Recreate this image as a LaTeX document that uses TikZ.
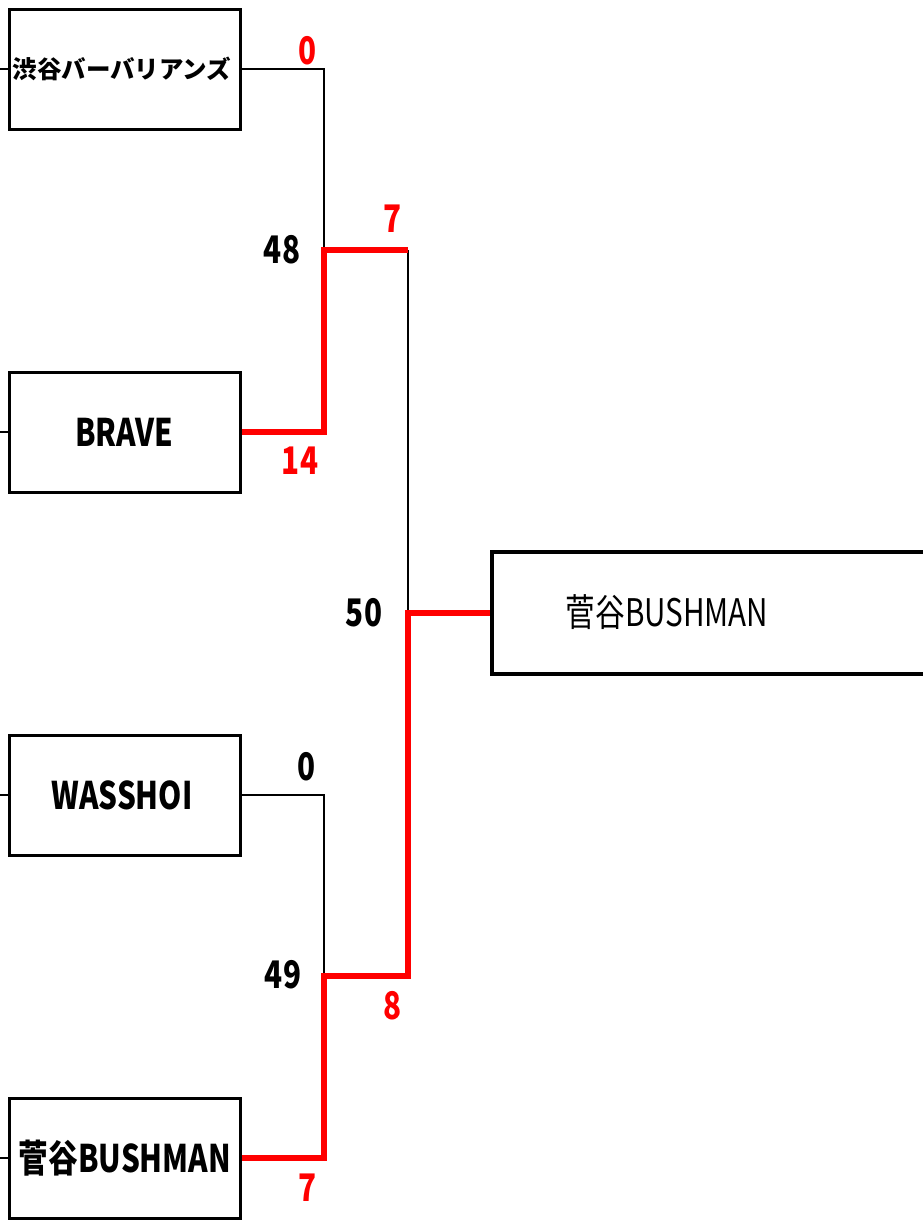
\documentclass[tikz,border=0pt]{standalone}
\usepackage{fontspec}
\newfontfamily\cond[FakeStretch=0.78]{Noto Sans CJK JP}
\newfontfamily\jpn{Noto Sans CJK JP}
\begin{document}
\begin{tikzpicture}[x=1pt,y=-1pt,
  team/.style={draw,line width=3pt,minimum width=231pt,minimum height=120pt,inner sep=0pt,fill=white},
  champ/.style={draw,line width=4.5pt,minimum width=448pt,minimum height=122pt,inner sep=0pt},
  loseline/.style={line width=2.6pt,black},
  winline/.style={line width=6pt,red},
  score/.style={font=\cond\bfseries\fontsize{38}{38}\selectfont,inner sep=0pt,text depth=0pt},
  redscore/.style={score,text=red},
  teamlabel/.style={font=\cond\bfseries\fontsize{38}{38}\selectfont,inner sep=0pt}
]
\useasboundingbox (0,0) rectangle (922,1224);
% teams
\node[team] (t1) at (124.5,69) {};
\node[team] (t2) at (124.5,432) {};
\node[team] (t3) at (124.5,795) {};
\node[team] (t4) at (124.5,1158) {};
\node[champ] (ch) at (716,613) {};
\node[font=\jpn\bfseries\fontsize{24.5}{24.5}\selectfont,inner sep=0pt] (n1) at (122,69) {渋谷バーバリアンズ};
\node[teamlabel] (n2) at (124,432) {BRAVE};
\node[teamlabel] (n3) at (122,795) {WASSHOI};
\node[teamlabel] (n4) at (125,1158) {菅谷BUSHMAN};
\node[font=\cond\fontsize{38}{38}\selectfont,inner sep=0pt] (n5) at (667,612) {菅谷BUSHMAN};
% left stubs
\coordinate (s1) at (0,69);
\coordinate (s2) at (0,432);
\coordinate (s3) at (0,795);
\coordinate (s4) at (0,1158);
\foreach \i in {1,2,3,4} \draw[loseline] (s\i) -- (t\i.west);
% junctions
\coordinate (a1) at (324,69);
\coordinate (a2) at (324,432);
\coordinate (m1) at (324,250);
\coordinate (m1r) at (408,250);
\coordinate (a3) at (324,795);
\coordinate (a4) at (324,1158);
\coordinate (m2) at (324,976);
\coordinate (m2r) at (408,976);
\coordinate (f) at (408,613);
% black (losing) lines
\draw[loseline] (t1.east) -- (a1) -- (m1);
\draw[loseline] (m1r) -- (f);
\draw[loseline] (t3.east) -- (a3) -- (m2);
% red (winning) lines
\draw[winline] (t2.east) -- (a2) -- (m1) -- (m1r);
\draw[winline] (t4.east) -- (a4) -- (m2) -- (m2r) -- (f) -- (ch.west);
% scores
\node[redscore] (sc1) at (308,50) {0};
\node[score] (sc2) at (282,249) {48};
\node[redscore] (sc3) at (393,219) {7};
\node[redscore] (sc4) at (300,461) {14};
\node[score] (sc5) at (364,612) {50};
\node[score] (sc6) at (307,766) {0};
\node[score] (sc7) at (283,974) {49};
\node[redscore] (sc8) at (393,1005) {8};
\node[redscore] (sc9) at (308,1188) {7};
\end{tikzpicture}
\end{document}
